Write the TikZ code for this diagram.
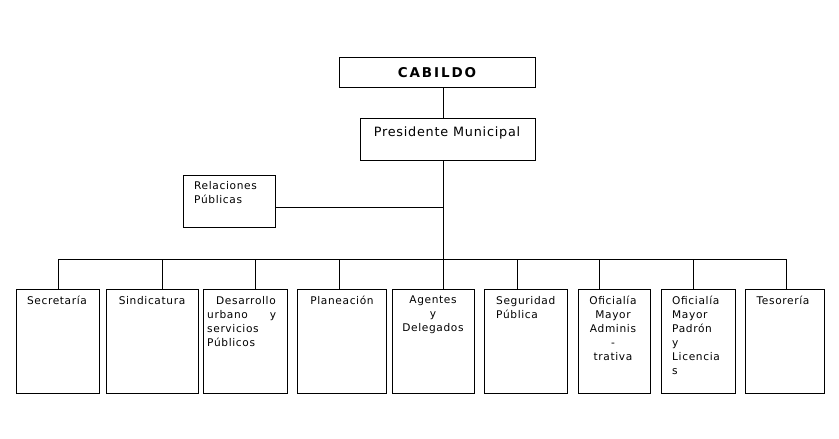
\documentclass[tikz,border=0pt]{standalone}
\usepackage{fontspec}
\setmainfont{DejaVu Sans}
\newfontfamily\wideA[LetterSpace=6]{DejaVu Sans}
\newfontfamily\wideB[LetterSpace=14]{DejaVu Sans Bold}
\begin{document}
\begin{tikzpicture}[x=1pt,y=-1pt,
  box/.style={draw=black,line width=0.9pt,fill=white},
  conn/.style={draw=black,line width=0.9pt},
  lbl/.style={inner sep=0pt,anchor=north,font=\wideA\fontsize{10.6}{14}\selectfont,align=center},
  lbll/.style={inner sep=0pt,anchor=north west,font=\wideA\fontsize{10.6}{14}\selectfont,align=left}]
\useasboundingbox (0,0) rectangle (839,439);
\fill[white] (0,0) rectangle (839,439);
% top boxes
\draw[box] (339,57) rectangle (535,87);
\node[inner sep=0pt,font=\wideB\fontsize{13.5}{15}\selectfont] (cab) at (437,73) {CABILDO};
\coordinate (cabb) at (443,87);
\draw[box] (360,118) rectangle (535,160);
\node[inner sep=0pt,font=\wideA\fontsize{12.8}{14}\selectfont] (pres) at (447,133) {Presidente Municipal};
\coordinate (prest) at (443,118);
\coordinate (presb) at (443,160);
\coordinate (bus) at (443,259);
\coordinate (relj) at (443,207);
\draw[box] (183,175) rectangle (275,227);
\node[lbll] (rel) at (194,181) {Relaciones\\Públicas};
\coordinate (relr) at (275,207);
\draw[conn] (cabb) -- (prest);
\draw[conn] (presb) -- (bus);
\draw[conn] (relr) -- (relj);
\draw[conn] (58,259) -- (786,259);
% bottom boxes
\foreach \a/\b/\d in {16/99/58,106/198/162,203/287/255,297/386/339,392/474/443,484/567/517,578/650/599,661/735/693,745/824/786}{
  \draw[box] (\a,289) rectangle (\b,393);
  \draw[conn] (\d,259) -- (\d,289);
}
\node[lbl] (sec) at (57,296) {Secretaría};
\node[lbl] (sin) at (152,296) {Sindicatura};
\node[lbll] (des) at (207,296) {\hspace*{9pt}Desarrollo\\\makebox[69pt][l]{urbano\hfill y}\\servicios\\Públicos};
\node[lbl] (pla) at (342,296) {Planeación};
\node[lbl] (age) at (433,296) {Agentes\\y\\Delegados};
\node[lbll] (seg) at (496,296) {Seguridad\\Pública};
\node[lbl] (ofa) at (613,296) {Oficialía\\Mayor\\Adminis\\-\\trativa};
\node[lbll] (ofp) at (672,296) {Oficialía\\Mayor\\Padrón\\y\\Licencia\\s};
\node[lbl] (tes) at (783,296) {Tesorería};
\end{tikzpicture}
\end{document}
